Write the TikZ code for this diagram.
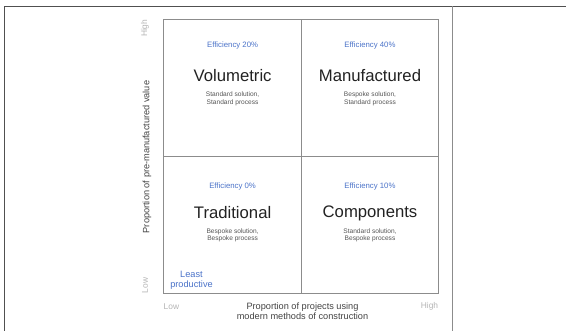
\documentclass[tikz,border=0pt]{standalone}
\usepackage{fontspec}
\setmainfont{Liberation Sans}
\definecolor{effblue}{HTML}{4A72C8}
\definecolor{axgray}{HTML}{B4B4B4}
\definecolor{gridgray}{HTML}{8C8C8C}
\definecolor{framegray}{HTML}{505050}
\definecolor{subgray}{HTML}{555555}
\definecolor{titleblack}{HTML}{222222}
\begin{document}
\begin{tikzpicture}[x=1pt,y=-1pt,
  frameline/.style={draw=framegray,line width=1.3pt},
  gridline/.style={draw=gridgray,line width=0.8pt},
  eff/.style={inner sep=0pt,text=effblue,font=\fontsize{7.8}{9}\selectfont},
  quad/.style={inner sep=0pt,text=titleblack,font=\fontsize{16.7}{19}\selectfont},
  sub/.style={inner sep=0pt,text=subgray,align=center,font=\fontsize{6.6}{7.8}\selectfont},
  axlab/.style={inner sep=0pt,text=titleblack!85,align=center,font=\fontsize{9.2}{10}\selectfont},
  tick/.style={inner sep=0pt,text=axgray,font=\fontsize{8.4}{10}\selectfont}]
\useasboundingbox (0,0) rectangle (566,331);
% outer frame
\coordinate (tl) at (4.5,6.5);
\coordinate (tr) at (566,6.5);
\coordinate (bl) at (4.5,331);
\coordinate (rt) at (452.7,6.5);
\coordinate (rb) at (452.7,331);
\draw[frameline] (bl) -- (tl) -- (tr);
\draw[gridgray,line width=1pt] (rt) -- (rb);
% grid
\coordinate (g1) at (163.5,19.5);
\coordinate (g2) at (438.3,293.3);
\coordinate (mt) at (301.7,19.5);
\coordinate (mb) at (301.7,293.3);
\coordinate (ml) at (163.5,156.5);
\coordinate (mr) at (438.3,156.5);
\draw[gridline] (g1) rectangle (g2);
\draw[gridline] (mt) -- (mb);
\draw[gridline] (ml) -- (mr);
% quadrants
\node[eff] (e1) at (232.6,45) {Efficiency 20\%};
\node[quad] (q1) at (232.6,75.5) {Volumetric};
\node[sub] (s1) at (232.6,99) {Standard solution,\\Standard process};
\node[eff] (e2) at (370,45) {Efficiency 40\%};
\node[quad] (q2) at (370,75.5) {Manufactured};
\node[sub] (s2) at (370,99) {Bespoke solution,\\Standard process};
\node[eff] (e3) at (232.6,186) {Efficiency 0\%};
\node[quad] (q3) at (232.6,213) {Traditional};
\node[sub] (s3) at (232.6,235.2) {Bespoke solution,\\Bespoke process};
\node[eff] (e4) at (370,186) {Efficiency 10\%};
\node[quad] (q4) at (370,213) {Components};
\node[sub] (s4) at (370,235.2) {Standard solution,\\Bespoke process};
\node[inner sep=0pt,text=effblue,align=center,font=\fontsize{9.2}{10}\selectfont] (lp) at (191.5,280) {Least\\productive};
% axes
\node[axlab,rotate=90] (yl) at (147,157) {Proportion of pre-manufactured value};
\node[axlab] (xl) at (302.5,311.5) {Proportion of projects using\\modern methods of construction};
\node[tick,rotate=90,anchor=east] (yh) at (145,19.5) {High};
\node[tick,rotate=90,anchor=west] (ylo) at (145,293.3) {Low};
\node[tick,anchor=west] (xlo) at (163.5,306.5) {Low};
\node[tick,anchor=east] (xh) at (438.3,306.5) {High};
\end{tikzpicture}
\end{document}
